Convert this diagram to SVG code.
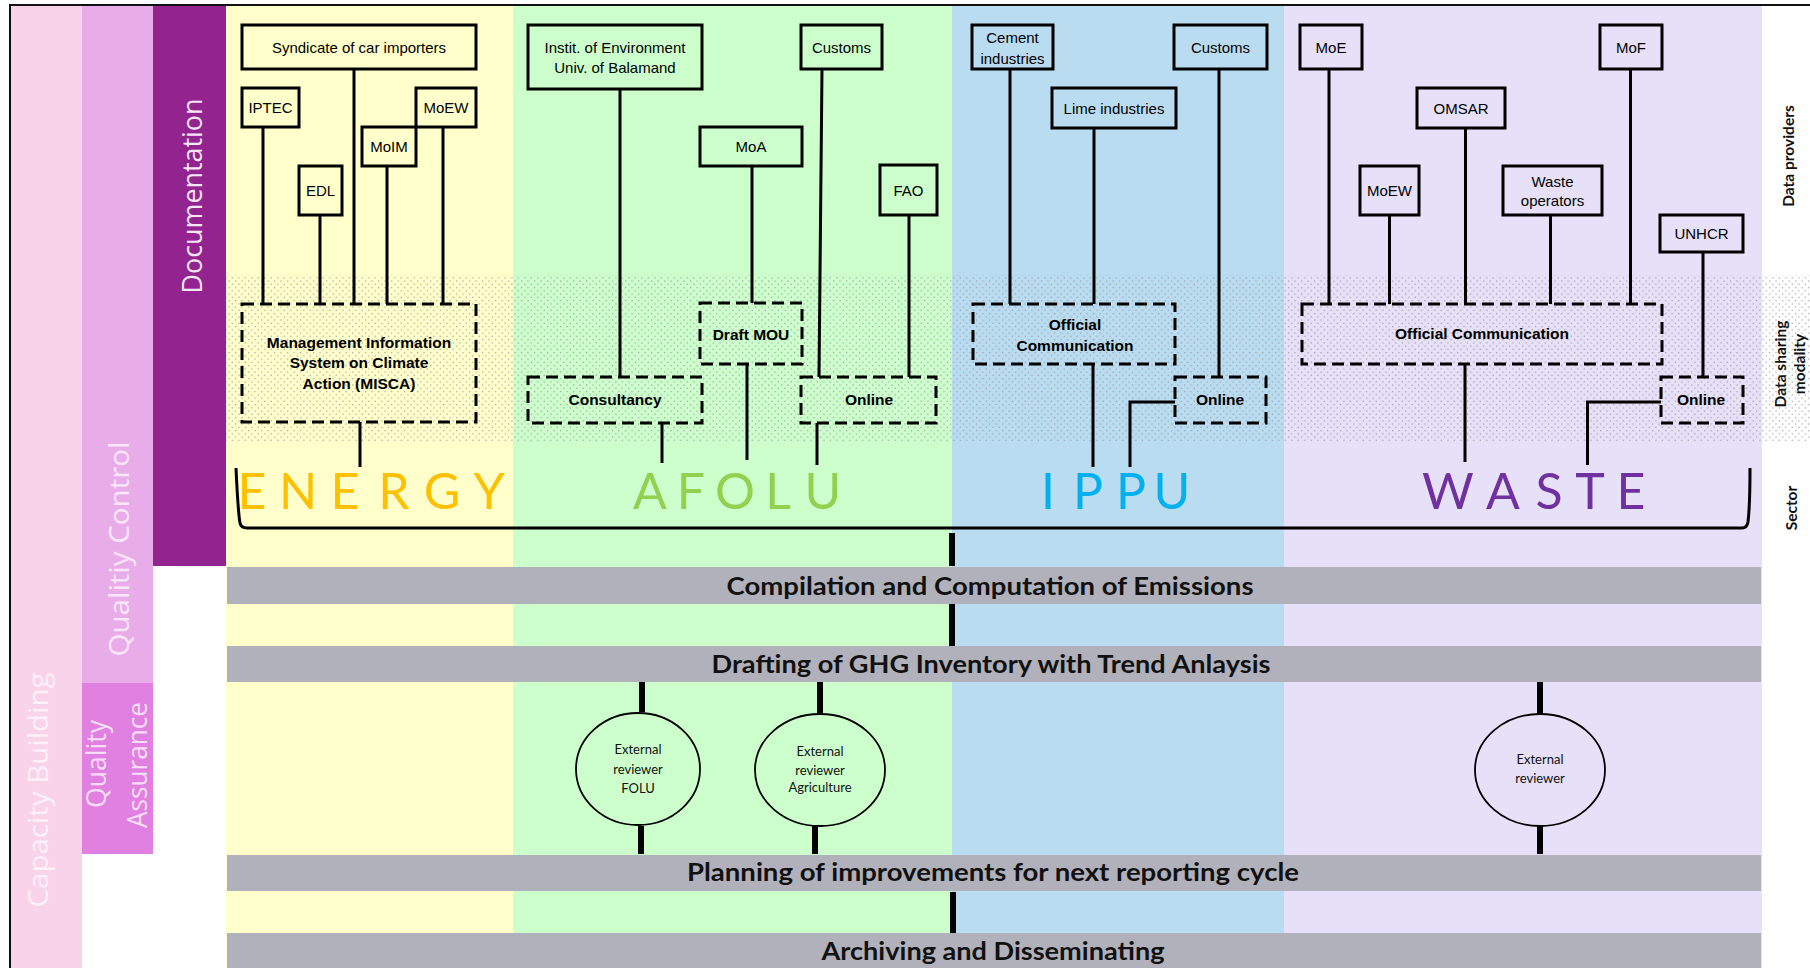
<svg xmlns="http://www.w3.org/2000/svg" width="1810" height="968" viewBox="0 0 1810 968">
<defs>
<pattern id="dots" x="0" y="0" width="6.5" height="6.5" patternUnits="userSpaceOnUse">
<rect x="1" y="1" width="1.2" height="1.2" fill="#9a9a9a"/>
<rect x="4.25" y="4.25" width="1.2" height="1.2" fill="#9a9a9a"/>
</pattern>
<style>
.pbox{fill:none;stroke:#000;stroke-width:3}
.dbox{fill:none;stroke:#000;stroke-width:3;stroke-dasharray:12 6}
.ptxt{font-family:"Liberation Sans",Arial,sans-serif;font-size:15px;fill:#000;text-anchor:middle}
.dtxt{font-family:"Liberation Sans",Arial,sans-serif;font-size:15.5px;font-weight:bold;fill:#000;text-anchor:middle}
.conn{stroke:#000;stroke-width:3;fill:none}
.flow{stroke:#000;stroke-width:6;fill:none}
.rev{fill:none;stroke:#000;stroke-width:1.8}
.rtxt{font-family:Lato,"Open Sans",sans-serif;font-size:13px;fill:#111;text-anchor:middle}
.bar{fill:#B1B1BB}
.btxt{font-family:Lato,"Open Sans",sans-serif;font-weight:bold;font-size:24px;fill:#111;text-anchor:middle}
.sect{font-family:Lato,"Open Sans",sans-serif;font-size:50px;text-anchor:middle}
.side{font-family:"Open Sans",Lato,sans-serif;font-size:28px;text-anchor:middle}
.rlab{font-family:Lato,"Open Sans",sans-serif;font-weight:bold;font-size:15.5px;text-anchor:middle;fill:#111}
</style>
</defs>

<g id="background">
<rect x="0" y="0" width="1810" height="968" fill="#ffffff"/>
<rect x="10" y="5" width="72" height="963" fill="#F9D3EA"/>
<rect x="82" y="5" width="71" height="678" fill="#E8ACE8"/>
<rect x="82" y="683" width="71" height="171" fill="#E080E0"/>
<rect x="153" y="5" width="73" height="561" fill="#92238F"/>
<rect x="226" y="5" width="287" height="963" fill="#FFFFCC"/>
<rect x="513" y="5" width="439" height="963" fill="#CCFFCC"/>
<rect x="952" y="5" width="332" height="963" fill="#B9DCF1"/>
<rect x="1284" y="5" width="478" height="963" fill="#E6E0F8"/>
<rect x="226" y="275" width="1584" height="167" fill="url(#dots)"/>
</g>

<g id="side-labels">
<text class="side" fill="#F5E6F5" transform="translate(202,196) rotate(-90)" textLength="195" lengthAdjust="spacingAndGlyphs">Documentation</text>
<text class="side" fill="#FAE6FA" transform="translate(129,549) rotate(-90)" textLength="215" lengthAdjust="spacingAndGlyphs">Qualitiy Control</text>
<text class="side" fill="#F8DDF8" transform="translate(106,764) rotate(-90)" textLength="88" lengthAdjust="spacingAndGlyphs">Quality</text>
<text class="side" fill="#F8DDF8" transform="translate(147,765) rotate(-90)" textLength="126" lengthAdjust="spacingAndGlyphs">Assurance</text>
<text class="side" fill="#FDF0F8" transform="translate(48,790) rotate(-90)" textLength="235" lengthAdjust="spacingAndGlyphs">Capacity Building</text>
<text class="rlab" transform="translate(1794,156) rotate(-90)">Data providers</text>
<text class="rlab" transform="translate(1786,364) rotate(-90)">Data sharing</text>
<text class="rlab" transform="translate(1805,364) rotate(-90)">modality</text>
<text class="rlab" transform="translate(1797,508) rotate(-90)">Sector</text>
</g>

<g id="sector-labels">
<text class="sect" fill="#FFC000" x="252 298 345 394 442 489" y="509">ENERGY</text>
<text class="sect" fill="#92D050" x="650 691 735 778 823" y="509">AFOLU</text>
<text class="sect" fill="#00B0F0" x="1048 1088 1131 1172" y="509">IPPU</text>
<text class="sect" fill="#7030A0" x="1448 1503 1549 1590 1631" y="509">WASTE</text>
</g>

<g id="process-bars">
<g id="bar-compilation"><rect class="bar" x="227" y="567" width="1534" height="37"/><text class="btxt" x="990" y="595" textLength="527" lengthAdjust="spacingAndGlyphs">Compilation and Computation of Emissions</text></g>
<g id="bar-drafting"><rect class="bar" x="227" y="646" width="1534" height="36"/><text class="btxt" x="991" y="673" textLength="559" lengthAdjust="spacingAndGlyphs">Drafting of GHG Inventory with Trend Anlaysis</text></g>
<g id="bar-planning"><rect class="bar" x="227" y="855" width="1534" height="36"/><text class="btxt" x="993" y="881" textLength="612" lengthAdjust="spacingAndGlyphs">Planning of improvements for next reporting cycle</text></g>
<g id="bar-archiving"><rect class="bar" x="227" y="933" width="1534" height="40"/><text class="btxt" x="993" y="960" textLength="343" lengthAdjust="spacingAndGlyphs">Archiving and Disseminating</text></g>
</g>

<g id="connectors">
<path class="conn" d="M263 127V304M320 215V304M354 69V304M387 166V304M443 127V304M360 422V467"/>
<path class="conn" d="M620 89V377M752 166V303M822 69L819 377M909 215V377M662 423V463M747 364V460M817 423V465"/>
<path class="conn" d="M1010 69V304M1094 128V304M1219 69V377M1093 364V467M1175 402H1130V467"/>
<path class="conn" d="M1329 69V304M1389.5 215V304M1465.5 128V304M1550.5 215V304M1630.5 69V304M1703 252V377M1465 364V462M1661 402H1587.5V465"/>
<path class="conn" d="M236 468C237 490 238 512 240 523Q241 528 247 528H1742Q1747 528 1748 522C1750 505 1750 485 1750 468"/>
<path class="flow" d="M952 533V566M952 604V646M953 892V933"/>
<path class="flow" d="M642 682V712M641 826V854M820 682V713M815 826V854M1540 682V714M1540 826V854"/>
</g>

<g id="energy-nodes">
<g id="n-syndicate"><rect class="pbox" x="242" y="25" width="234" height="44"/><text class="ptxt" x="359" y="53">Syndicate of car importers</text></g>
<g id="n-iptec"><rect class="pbox" x="242" y="88" width="57" height="39"/><text class="ptxt" x="270.5" y="113">IPTEC</text></g>
<g id="n-moew-energy"><rect class="pbox" x="416" y="88" width="60" height="39"/><text class="ptxt" x="446" y="113">MoEW</text></g>
<g id="n-moim"><rect class="pbox" x="362" y="127" width="54" height="39"/><text class="ptxt" x="389" y="152">MoIM</text></g>
<g id="n-edl"><rect class="pbox" x="299" y="166" width="43" height="49"/><text class="ptxt" x="320.5" y="196">EDL</text></g>
<g id="n-misca"><rect class="dbox" x="242" y="304" width="234" height="118"/><text class="dtxt" x="359" y="348">Management Information</text><text class="dtxt" x="359" y="368">System on Climate</text><text class="dtxt" x="359" y="389">Action (MISCA)</text></g>
</g>

<g id="afolu-nodes">
<g id="n-instit"><rect class="pbox" x="528" y="25" width="174" height="64"/><text class="ptxt" x="615" y="53">Instit. of Environment</text><text class="ptxt" x="615" y="73">Univ. of Balamand</text></g>
<g id="n-customs-afolu"><rect class="pbox" x="801" y="25" width="81" height="44"/><text class="ptxt" x="841.5" y="53">Customs</text></g>
<g id="n-moa"><rect class="pbox" x="700" y="127" width="102" height="39"/><text class="ptxt" x="751" y="152">MoA</text></g>
<g id="n-fao"><rect class="pbox" x="880" y="165" width="57" height="50"/><text class="ptxt" x="908.5" y="196">FAO</text></g>
<g id="n-consultancy"><rect class="dbox" x="528" y="377" width="174" height="46"/><text class="dtxt" x="615" y="405">Consultancy</text></g>
<g id="n-draftmou"><rect class="dbox" x="700" y="303" width="102" height="61"/><text class="dtxt" x="751" y="340">Draft MOU</text></g>
<g id="n-online-afolu"><rect class="dbox" x="801" y="377" width="135" height="46"/><text class="dtxt" x="869" y="405">Online</text></g>
</g>

<g id="ippu-nodes">
<g id="n-cement"><rect class="pbox" x="972" y="25" width="81" height="44"/><text class="ptxt" x="1012.5" y="43">Cement</text><text class="ptxt" x="1012.5" y="64">industries</text></g>
<g id="n-lime"><rect class="pbox" x="1052" y="88" width="124" height="40"/><text class="ptxt" x="1114" y="114">Lime industries</text></g>
<g id="n-customs-ippu"><rect class="pbox" x="1174" y="25" width="93" height="44"/><text class="ptxt" x="1220.5" y="53">Customs</text></g>
<g id="n-official-ippu"><rect class="dbox" x="973" y="304" width="202" height="60"/><text class="dtxt" x="1075" y="330">Official</text><text class="dtxt" x="1075" y="351">Communication</text></g>
<g id="n-online-ippu"><rect class="dbox" x="1175" y="377" width="91" height="46"/><text class="dtxt" x="1220" y="405">Online</text></g>
</g>

<g id="waste-nodes">
<g id="n-moe"><rect class="pbox" x="1300" y="25" width="62" height="44"/><text class="ptxt" x="1331" y="53">MoE</text></g>
<g id="n-mof"><rect class="pbox" x="1600" y="25" width="62" height="44"/><text class="ptxt" x="1631" y="53">MoF</text></g>
<g id="n-omsar"><rect class="pbox" x="1417" y="88" width="88" height="40"/><text class="ptxt" x="1461" y="114">OMSAR</text></g>
<g id="n-moew-waste"><rect class="pbox" x="1360" y="166" width="59" height="49"/><text class="ptxt" x="1389.5" y="196">MoEW</text></g>
<g id="n-wasteop"><rect class="pbox" x="1503" y="166" width="99" height="49"/><text class="ptxt" x="1552.5" y="187">Waste</text><text class="ptxt" x="1552.5" y="206">operators</text></g>
<g id="n-unhcr"><rect class="pbox" x="1660" y="215" width="83" height="37"/><text class="ptxt" x="1701.5" y="239">UNHCR</text></g>
<g id="n-official-waste"><rect class="dbox" x="1302" y="304" width="360" height="60"/><text class="dtxt" x="1482" y="339">Official Communication</text></g>
<g id="n-online-waste"><rect class="dbox" x="1661" y="377" width="82" height="46"/><text class="dtxt" x="1701" y="405">Online</text></g>
</g>

<g id="reviewers">
<g id="n-rev-folu"><ellipse class="rev" cx="638" cy="769" rx="62" ry="56"/><text class="rtxt" x="638" y="754">External</text><text class="rtxt" x="638" y="774">reviewer</text><text class="rtxt" x="638" y="793">FOLU</text></g>
<g id="n-rev-agri"><ellipse class="rev" cx="820" cy="770" rx="65" ry="56"/><text class="rtxt" x="820" y="756">External</text><text class="rtxt" x="820" y="775">reviewer</text><text class="rtxt" x="820" y="792">Agriculture</text></g>
<g id="n-rev-waste"><ellipse class="rev" cx="1540" cy="770" rx="65" ry="56"/><text class="rtxt" x="1540" y="764">External</text><text class="rtxt" x="1540" y="783">reviewer</text></g>
</g>

<path d="M10 968V5H1810" fill="none" stroke="#111" stroke-width="2"/>
</svg>
